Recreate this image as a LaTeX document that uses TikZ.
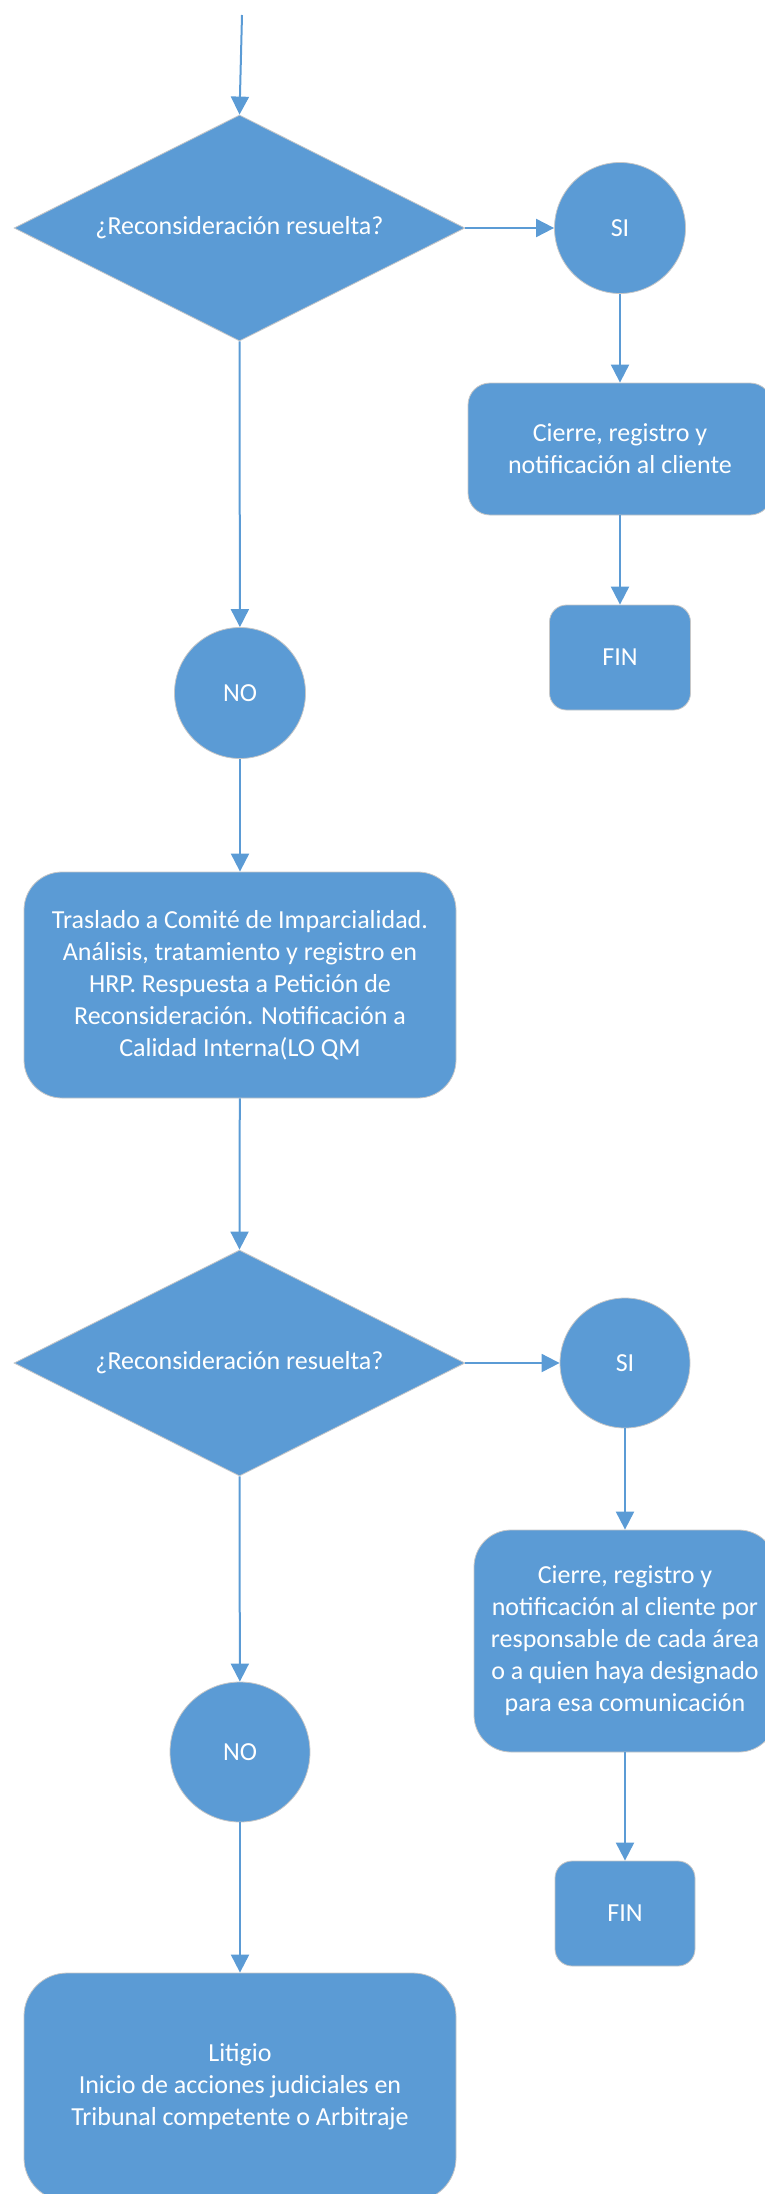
\documentclass[tikz,border=0pt]{standalone}
\usepackage{fontspec}
\setmainfont{Carlito}
\usetikzlibrary{shapes.geometric, arrows.meta}
\definecolor{boxblue}{HTML}{5B9BD5}

\begin{document}
\begin{tikzpicture}[x = 1pt, y = -1pt]
\tikzstyle{baseStyle} = [fill = boxblue, draw = black!22, line width = 0.8pt, text = white, font = \fontsize{26}{32}\selectfont, align = center, inner sep = 0pt]
\tikzstyle{decisionStyle} = [baseStyle, shape = diamond, aspect = 2, minimum width = 451pt, minimum height = 226pt]
\tikzstyle{answerStyle} = [baseStyle, shape = circle]
\tikzstyle{processStyle} = [baseStyle, shape = rectangle]
\tikzstyle{flowStyle} = [draw = boxblue, line width = 2pt, -{Triangle[length = 18pt, width = 18pt]}]
\useasboundingbox (0, 0) rectangle (765, 2194);
\clip (0, 0) rectangle (765, 2194);
\coordinate (start) at (242, 15);
\node[decisionStyle] (dec1) at (239.5, 228) {¿Reconsideración resuelta?};
\node[answerStyle, minimum size = 131pt] (si1) at (620, 228) {SI};
\node[processStyle, minimum width = 304pt, minimum height = 132pt, rounded corners = 22pt] (cierre1) at (620, 449) {Cierre, registro y\\notificación al cliente};
\node[processStyle, minimum width = 141pt, minimum height = 105pt, rounded corners = 17pt] (fin1) at (620, 657.5) {FIN};
\node[answerStyle, minimum size = 131pt] (no1) at (240, 693) {NO};
\node[processStyle, minimum width = 432pt, minimum height = 226pt, rounded corners = 38pt] (traslado) at (240, 985) {Traslado a Comité de Imparcialidad.\\Análisis, tratamiento y registro en\\HRP. Respuesta a Petición de\\Reconsideración. Notificación a\\Calidad Interna(LO QM};
\node[decisionStyle] (dec2) at (239.5, 1363) {¿Reconsideración resuelta?};
\node[answerStyle, minimum size = 130pt] (si2) at (625, 1363) {SI};
\node[processStyle, minimum width = 302pt, minimum height = 222pt, rounded corners = 37pt] (cierre2) at (625, 1641) {Cierre, registro y\\notificación al cliente por\\responsable de cada área\\o a quien haya designado\\para esa comunicación};
\node[processStyle, minimum width = 140pt, minimum height = 105pt, rounded corners = 17pt] (fin2) at (625, 1913.5) {FIN};
\node[answerStyle, minimum size = 140pt] (no2) at (240, 1752) {NO};
\node[processStyle, minimum width = 432pt, minimum height = 228pt, rounded corners = 43pt] (litigio) at (240, 2087) {Litigio\\Inicio de acciones judiciales en\\Tribunal competente o Arbitraje};
\draw[flowStyle] (start) -- (dec1.north);
\draw[flowStyle] (dec1.east) -- (si1);
\draw[flowStyle] (si1) -- (cierre1);
\draw[flowStyle] (cierre1) -- (fin1);
\draw[flowStyle] (dec1.south) -- (no1);
\draw[flowStyle] (no1) -- (traslado);
\draw[flowStyle] (traslado) -- (dec2.north);
\draw[flowStyle] (dec2.east) -- (si2);
\draw[flowStyle] (si2) -- (cierre2);
\draw[flowStyle] (cierre2) -- (fin2);
\draw[flowStyle] (dec2.south) -- (no2);
\draw[flowStyle] (no2) -- (litigio);
\end{tikzpicture}
\end{document}
